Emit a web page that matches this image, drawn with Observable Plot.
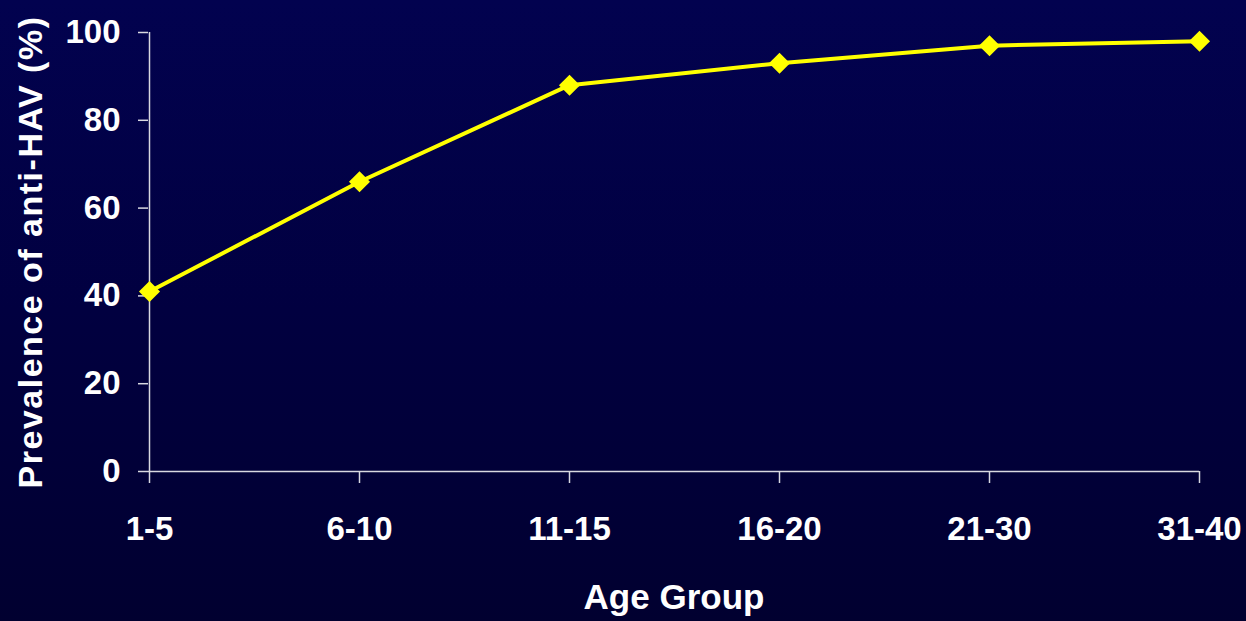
<!DOCTYPE html>
<html>
<head>
<meta charset="utf-8">
<script src="https://cdn.jsdelivr.net/npm/d3@7"></script>
<script src="https://cdn.jsdelivr.net/npm/@observablehq/plot@0.6"></script>
<style>
  html, body { margin: 0; padding: 0; }
  body {
    width: 1246px; height: 621px; overflow: hidden;
    background: linear-gradient(to bottom, #02024f, #010040 50%, #010030);
  }
</style>
</head>
<body>
<div id="chart"></div>
<script>
const ageGroups = ["1-5", "6-10", "11-15", "16-20", "21-30", "31-40"];
const prevalence = [41, 66, 88, 93, 97, 98];
const yTicks = [0, 20, 40, 60, 80, 100];
const xTitle = "Age Group";
const yTitle = "Prevalence of anti-HAV (%)";

const data = ageGroups.map((a, i) => ({age: a, value: prevalence[i]}));
const axisColor = "#d8d8e0";

const chart = Plot.plot({
  width: 1246,
  height: 621,
  marginLeft: 148,
  marginRight: 47,
  marginTop: 32,
  marginBottom: 150,
  style: {
    background: "transparent",
    color: "white",
    fontFamily: "'Liberation Sans', Arial, sans-serif",
    fontSize: "33px",
    fontWeight: "bold"
  },
  x: {type: "point", domain: ageGroups, padding: 0},
  y: {domain: [0, 100]},
  marks: [
    Plot.ruleY([0], {stroke: axisColor, strokeWidth: 1.5}),
    Plot.ruleX([ageGroups[0]], {y1: 0, y2: 100, stroke: axisColor, strokeWidth: 1.5}),
    Plot.axisY({ticks: yTicks, tickSize: 10, tickPadding: 18, label: null, stroke: axisColor, strokeWidth: 1.5, fill: "white"}),
    Plot.axisX({tickSize: 12, tickPadding: 33, label: null, stroke: axisColor, strokeWidth: 1.5, fill: "white"}),
    Plot.line(data, {x: "age", y: "value", stroke: "#ffff00", strokeWidth: 4}),
    Plot.dot(data, {x: "age", y: "value", symbol: "diamond2", r: 9.5, fill: "#ffff00", stroke: "none"}),
    Plot.text([xTitle], {frameAnchor: "bottom", dy: 137, fill: "white", fontSize: 35, fontWeight: "bold"}),
    Plot.text([yTitle], {frameAnchor: "left", textAnchor: "middle", dx: -117, rotate: -90, fill: "white", fontSize: 34, fontWeight: "bold"})
  ]
});
document.getElementById("chart").appendChild(chart);
d3.select(chart).selectAll("text").filter(function() { return this.textContent === yTitle; })
  .style("letter-spacing", "1.5px");
</script>
</body>
</html>
